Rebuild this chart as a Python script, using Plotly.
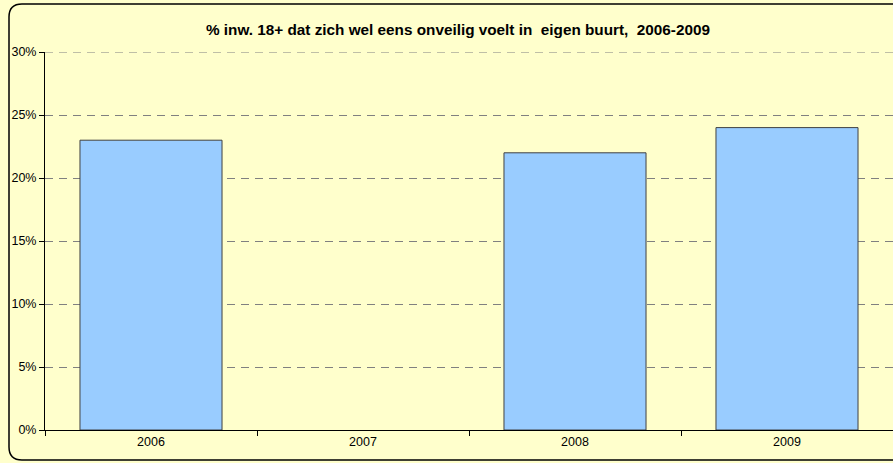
import plotly.graph_objects as go

# Survey results per year (2007 not measured)
years = ["2006", "2007", "2008", "2009"]
share_unsafe = [0.23, None, 0.22, 0.24]
y_ticks = [0, 0.05, 0.10, 0.15, 0.20, 0.25, 0.30]
y_tick_labels = ["0%", "5%", "10%", "15%", "20%", "25%", "30%"]
y_max = 0.30

W, H = 893, 463
ML, MR, MT, MB = 45, 0, 52, 33
PW, PH = W - ML - MR, H - MT - MB
GRID = dict(color="#808080", width=1, dash="8px,6px")


def px(x):
    return (x - ML) / PW


def py(y):
    return (H - MB - y) / PH


fig = go.Figure(
    go.Bar(
        x=years,
        y=share_unsafe,
        marker=dict(color="#99CCFF", line=dict(color="#404040", width=1)),
        hoverinfo="skip",
    )
)

# Rounded outer frame of the chart area (right side runs off the page)
r = 13
x0, x1 = px(9), px(905)
y0, y1 = py(460), py(4)
rx, ry = r / PW, r / PH
path = (
    f"M {x0 + rx} {y1} L {x1} {y1} L {x1} {y0} L {x0 + rx} {y0} "
    f"Q {x0} {y0} {x0} {y0 + ry} L {x0} {y1 - ry} Q {x0} {y1} {x0 + rx} {y1} Z"
)
fig.add_shape(
    type="path", path=path, xref="paper", yref="paper",
    line=dict(color="#000000", width=1.5), layer="below",
)

# Gridline at the top of the value range (Plotly skips the one on the edge)
fig.add_shape(
    type="line", xref="paper", yref="y", x0=0, x1=1, y0=y_max, y1=y_max,
    line=GRID, layer="below",
)

fig.update_layout(
    width=W,
    height=H,
    margin=dict(l=ML, r=MR, t=MT, b=MB),
    paper_bgcolor="#FFFFCC",
    plot_bgcolor="#FFFFCC",
    bargap=0.33,
    showlegend=False,
    title=dict(
        text="<b>% inw. 18+ dat zich wel eens onveilig voelt in  eigen buurt,  2006-2009</b>",
        x=458 / W,
        xanchor="center",
        xref="container",
        y=1 - 30 / H,
        yanchor="middle",
        yref="container",
        font=dict(family="Liberation Sans, Arial, sans-serif", size=15.3, color="#000000"),
    ),
    font=dict(family="Liberation Sans, Arial, sans-serif", size=12.5, color="#000000"),
    xaxis=dict(
        type="category",
        range=[-0.5, 3.5],
        tickson="boundaries",
        ticks="outside",
        ticklen=5,
        tickcolor="#000000",
        showline=True,
        linecolor="#000000",
        linewidth=1,
        showgrid=False,
        tickfont=dict(size=12.5),
        fixedrange=True,
    ),
    yaxis=dict(
        range=[0, y_max],
        tickvals=y_ticks,
        ticktext=y_tick_labels,
        ticks="outside",
        ticklen=5,
        tickcolor="#000000",
        showline=True,
        linecolor="#000000",
        linewidth=1,
        showgrid=True,
        gridcolor=GRID["color"],
        griddash=GRID["dash"],
        gridwidth=GRID["width"],
        zeroline=False,
        tickfont=dict(size=12.5),
        fixedrange=True,
    ),
)

fig.write_html("out.html")
